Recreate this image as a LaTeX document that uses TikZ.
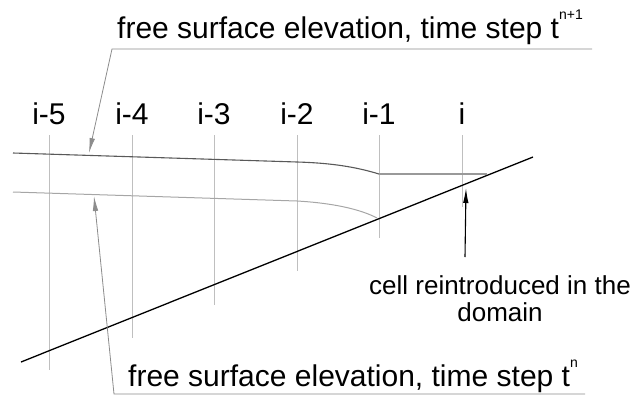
\documentclass[tikz,border=0pt]{standalone}
\usepackage{fontspec}
\setmainfont{Liberation Sans}
\usetikzlibrary{arrows.meta}
\tikzset{
  grid/.style={draw=black!25, line width=0.8pt},
  bed/.style={draw=black, line width=1.3pt},
  surfN1/.style={draw=black!65, line width=1.1pt},
  surfN/.style={draw=black!35, line width=1pt},
  leader/.style={draw=black!45, line width=0.8pt},
  tip/.style={-{Latex[length=15pt,width=5.5pt]}},
  lbl/.style={inner sep=0pt, anchor=base, font=\fontsize{30}{30}\selectfont},
  txt/.style={inner sep=0pt, anchor=base west, font=\fontsize{30}{30}\selectfont},
}
\newcommand{\supr}[1]{\raisebox{0.62em}{\fontsize{14}{14}\selectfont #1}}
\begin{document}
\begin{tikzpicture}[x=1pt,y=-1pt]
\useasboundingbox (0,0) rectangle (637,397);
% vertical cell lines
\foreach \n/\x/\yb/\t in {a/49/370/i-5, b/132/338/i-4, c/214/305/i-3, d/297/271/i-2, e/379/238/i-1, f/462/207/i}{
  \node[lbl] (L\n) at (\x,124) {\t};
  \coordinate (T\n) at (\x,135);
  \coordinate (B\n) at (\x,\yb);
  \draw[grid] (T\n) -- (B\n);
}
% bed line
\coordinate (bed1) at (21,362);
\coordinate (bed2) at (533,157);
\draw[bed] (bed1) -- (bed2);
% free surface n+1
\coordinate (u0) at (13,153);
\coordinate (u1) at (297,162);
\coordinate (u2) at (379,174);
\coordinate (u3) at (487,174);
\draw[surfN1] (u0) -- (u1) .. controls (332,163) and (356,167) .. (u2);
\draw[draw=black!40, line width=1.8pt] (u2) -- (u3);
% free surface n
\coordinate (l0) at (13,192);
\coordinate (l1) at (297,201);
\coordinate (l2) at (377,218);
\draw[surfN] (l0) -- (l1) .. controls (332,203) and (360,209) .. (l2);
% top label
\node[txt] (top) at (117,38) {free surface elevation, time step t\supr{n+1}};
\coordinate (ulA) at (592,49);
\coordinate (ulB) at (112,49);
\coordinate (utip) at (89,153);
\draw[leader,tip] (ulA) -- (ulB) -- (utip);
% bottom label
\node[txt] (bot) at (128,386) {free surface elevation, time step t\supr{n}};
\coordinate (llA) at (585,394);
\coordinate (llB) at (114,394);
\coordinate (ltip) at (94,196);
\draw[leader,tip] (llA) -- (llB) -- (ltip);
% cell reintroduced
\node[inner sep=0pt, anchor=base, align=center, font=\fontsize{26}{27}\selectfont] (cell) at (500,321) {cell reintroduced in the\\domain};
\coordinate (ctail) at (465,257);
\coordinate (ctip) at (466,188);
\draw[black, line width=1.1pt, tip] (ctail) -- (ctip);
\end{tikzpicture}
\end{document}
